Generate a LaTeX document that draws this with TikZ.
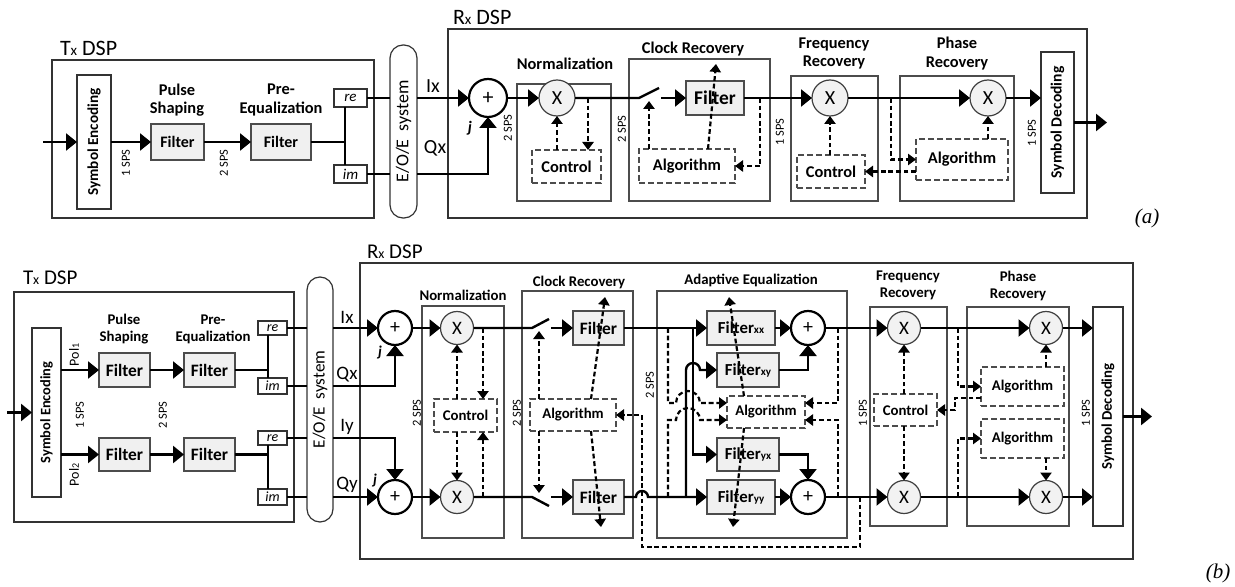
\documentclass[tikz,border=0pt]{standalone}
\usepackage{fontspec}
\setmainfont{Carlito}
\newfontfamily\capfont{Liberation Serif}
\usetikzlibrary{arrows.meta}
\newcommand\bx[7]{\node[#6, minimum width={(#4-#2)*0.5pt}, minimum height={(#5-#3)*0.5pt}] (#1) at ({(#2+#4)/2},{(#3+#5)/2}) {#7};}
\newcommand\fz[2]{\fontsize{#1}{#2}\selectfont}
\tikzset{
 sig/.style={line width=1.2pt},
 sarr/.style={sig, -{Triangle[length=5.5pt,width=8.5pt]}},
 dsh/.style={line width=1.1pt, dash pattern=on 2.4pt off 1.4pt},
 darr/.style={dsh, -{Triangle[length=4pt,width=5.6pt]}},
 outer/.style={draw=black!80, line width=0.6pt, inner sep=0pt, outer sep=0pt},
 inner/.style={draw=black!70, line width=0.8pt, inner sep=0pt, outer sep=0pt},
 filt/.style={draw=black!70, line width=0.6pt, fill=black!6, inner sep=0pt, outer sep=0pt},
 dbox/.style={draw=black!70, line width=0.55pt, dash pattern=on 3pt off 1.5pt, fill=white, inner sep=0pt, outer sep=0pt},
 plain/.style={draw=black!80, line width=0.6pt, fill=white, inner sep=0pt, outer sep=0pt},
 eoe/.style={draw=black!80, line width=0.6pt, fill=white, rounded corners=6.5pt, inner sep=0pt, outer sep=0pt},
 mul/.style={circle, draw=black!75, line width=0.6pt, fill=black!5, inner sep=0pt, outer sep=0pt},
 add/.style={circle, draw=black, line width=1.1pt, fill=white, inner sep=0pt, outer sep=0pt},
 txt/.style={inner sep=0pt, outer sep=0pt},
 sps/.style={txt, rotate=90, font=\fz{6.2}{7}},
 ttl/.style={txt, align=center, font=\bfseries\fz{8.2}{9.2}},
 ttlb/.style={txt, align=center, font=\bfseries\fz{7.4}{8.5}},
 fa/.style={font=\bfseries\fz{8.2}{9}},
 fb/.style={font=\bfseries\fz{7.4}{8.5}},
}
\begin{document}
\begin{tikzpicture}[x=0.5pt,y=-0.5pt]
\useasboundingbox (0,0) rectangle (1235,587);
% ================= (a) =================
\bx{txA}{52}{60}{374}{218}{outer}{}
\node[txt, anchor=west, font=\fz{11}{13}] (txAl) at (60,48) {T{\fz{7.5}{9}x} DSP};
\bx{eoA}{390}{45}{417}{218}{eoe}{}
\node[txt, rotate=90, font=\fz{9}{11}] (eoAt) at (eoA.center) {E/O/E\ \ system};
\bx{rxA}{448}{29}{1087}{218}{outer}{}
\node[txt, anchor=west, font=\fz{11}{13}] (rxAl) at (453,17) {R{\fz{7.5}{9}x} DSP};
\bx{nbA}{517}{84}{611}{201}{inner}{}
\node[ttl] (nbAl) at (565,64) {Normalization};
\bx{cbA}{629}{59}{770}{201}{inner}{}
\node[ttl] (cbAl) at (693,49) {Clock Recovery};
\bx{fbA}{791}{76}{878}{201}{inner}{}
\node[ttl] (fbAl) at (834,53.5) {Frequency\\Recovery};
\bx{pbA}{900}{76}{1014}{201}{inner}{}
\node[ttl] (pbAl) at (957,53.5) {Phase\\Recovery};
% Tx (a)
\bx{seA}{77}{75}{111}{209}{plain}{}
\node[txt, rotate=90, font=\bfseries\fz{7.6}{9}] (seAt) at (seA.center) {Symbol Encoding};
\coordinate (inA) at (43,142);
\draw[sarr] (inA) -- (seA.west |- inA);
\bx{psA}{151}{124}{204}{160}{filt, font=\bfseries\fz{8}{9}}{Filter}
\bx{peA}{251}{124}{311}{160}{filt, font=\bfseries\fz{8}{9}}{Filter}
\node[ttl] (psAl) at (177,100) {Pulse\\Shaping};
\node[ttl] (peAl) at (281,100) {Pre-\\Equalization};
\node[sps] (spsA1) at (126,163) {1 SPS};
\node[sps] (spsA2) at (224,163) {2 SPS};
\draw[sarr] (seA.east |- psA.west) -- (psA.west);
\draw[sarr] (psA.east) -- (peA.west);
\bx{reA}{334}{89}{367}{107}{plain, font=\itshape\fz{7.5}{9}}{re}
\bx{imA}{334}{165}{367}{183}{plain, font=\itshape\fz{7.5}{9}}{im}
\coordinate (jA) at (345,142);
\draw[sig] (peA.east) -- (jA);
\draw[sig] (reA.south -| jA) -- (imA.north -| jA);
% Rx (a)
\node[add, minimum size=19pt, font=\fz{11}{12}] (adA) at (488,98) {+};
\draw[sig] (reA.east) -- (eoA.west |- reA.east);
\draw[sarr] (eoA.east |- reA.east) -- (adA.west);
\draw[sig] (imA.east) -- (eoA.west |- imA.east);
\draw[sarr] (eoA.east |- imA.east) -| (adA.south);
\node[txt, font=\fz{10}{12}] (IxA) at (433,86) {Ix};
\node[txt, font=\fz{10}{12}] (QxA) at (435,148) {Qx};
\node[txt, font=\bfseries\itshape\fz{8}{9}] (jlA) at (470,128) {j};
% normalization
\node[mul, minimum size=18pt, font=\fz{10}{12}] (nxA) at (557,98) {X};
\draw[sarr] (adA.east) -- (nxA.west);
\node[sps] (spsA3) at (508,128) {2 SPS};
\bx{ncA}{532}{150}{601}{183}{dbox, fa}{Control}
\coordinate (nA1) at (588,98);
\draw[darr] (nA1) -- (nA1 |- ncA.north);
\draw[darr] (ncA.north -| nxA) -- (nxA.south);
% clock
\coordinate (swA1) at (639,98);
\coordinate (swA2) at (659,88);
\coordinate (swA3) at (661,98);
\draw[sig] (nxA.east) -- (swA1) -- (swA2);
\bx{fcA}{686}{81}{744}{115}{filt, font=\bfseries\fz{9.7}{11}}{Filter}
\draw[sarr] (swA3) -- (fcA.west);
\bx{acA}{639}{149}{735}{183}{dbox, fa}{Algorithm}
\coordinate (swA4) at (649,101);
\draw[darr] (swA4 |- acA.north) -- (swA4);
\coordinate (dgA) at (716,64);
\coordinate (dgA0) at (708,0);
\draw[darr] (dgA0 |- acA.north) -- (dgA);
\node[sps] (spsA4) at (622,129) {2 SPS};
% frequency
\node[mul, minimum size=18pt, font=\fz{10}{12}] (fxA) at (830,98) {X};
\draw[sarr] (fcA.east) -- (fxA.west);
\coordinate (cA1) at (760,98);
\draw[darr] (cA1) |- (acA.east);
\node[sps] (spsA5) at (780,132) {1 SPS};
\bx{fkA}{797}{155}{865}{188}{dbox, fa}{Control}
\draw[darr] (fkA.north -| fxA) -- (fxA.south);
% phase
\node[mul, minimum size=18pt, font=\fz{10}{12}] (pxA) at (988,98) {X};
\draw[sarr] (fxA.east) -- (pxA.west);
\bx{paA}{916}{139}{1008}{180}{dbox, fa}{Algorithm}
\coordinate (pA1) at (891,98);
\draw[darr] (pA1) |- (paA.west);
\draw[darr] (paA.west |- fkA.east) -- (fkA.east);
\draw[darr] (paA.north -| pxA) -- (pxA.south);
\bx{sdA}{1041}{52}{1074}{193}{plain}{}
\node[txt, rotate=90, font=\bfseries\fz{7.8}{9}] (sdAt) at (sdA.center) {Symbol Decoding};
\draw[sarr] (pxA.east) -- (sdA.west |- pxA.east);
\node[sps] (spsA6) at (1032,133) {1 SPS};
\coordinate (outA) at (1107,122.5);
\draw[sarr] (sdA.east |- outA) -- (outA);
\node[txt, font=\capfont\itshape\fz{10.5}{12}] (capA) at (1147,218) {(a)};
% ================= (b) =================
\bx{txB}{14}{292}{294}{522}{outer}{}
\node[txt, anchor=west, font=\fz{10.5}{12}] (txBl) at (23,278) {T{\fz{7}{8}x} DSP};
\bx{eoB}{307}{277}{333}{522}{eoe}{}
\node[txt, rotate=90, font=\fz{8.6}{10}] (eoBt) at (eoB.center) {E/O/E\ \ system};
\bx{rxB}{360}{263}{1133}{559}{outer}{}
\node[txt, anchor=west, font=\fz{10.5}{12}] (rxBl) at (367,252) {R{\fz{7}{8}x} DSP};
% Tx (b)
\bx{seB}{32}{328}{61}{497}{plain}{}
\node[txt, rotate=90, font=\bfseries\fz{7.2}{9}] (seBt) at (seB.center) {Symbol Encoding};
\coordinate (inB) at (7,412.5);
\draw[sarr] (inB) -- (seB.west |- inB);
\bx{psB1}{99}{353}{150}{387}{filt, font=\bfseries\fz{8.7}{10}}{Filter}
\bx{psB2}{99}{438}{150}{471}{filt, font=\bfseries\fz{8.7}{10}}{Filter}
\bx{peB1}{184}{353}{235}{387}{filt, font=\bfseries\fz{8.7}{10}}{Filter}
\bx{peB2}{184}{438}{235}{471}{filt, font=\bfseries\fz{8.7}{10}}{Filter}
\draw[sarr] (seB.east |- psB1.west) -- (psB1.west);
\draw[sarr] (seB.east |- psB2.west) -- (psB2.west);
\draw[sarr] (psB1.east) -- (peB1.west);
\draw[sarr] (psB2.east) -- (peB2.west);
\node[ttlb] (psBl) at (124,329) {Pulse\\Shaping};
\node[ttlb] (peBl) at (213,329) {Pre-\\Equalization};
\node[txt, rotate=90, font=\fz{7}{8}] (pol1) at (74,355) {Pol{\fz{5}{6}1}};
\node[txt, rotate=90, font=\fz{7}{8}] (pol2) at (74,475) {Pol{\fz{5}{6}2}};
\node[sps] (spsB1) at (80,415) {1 SPS};
\node[sps] (spsB2) at (163,415) {2 SPS};
\bx{reB1}{258}{321}{287}{335}{plain, font=\itshape\fz{7}{8}}{re}
\bx{imB1}{258}{378}{287}{394}{plain, font=\itshape\fz{7}{8}}{im}
\bx{reB2}{258}{431}{287}{445}{plain, font=\itshape\fz{7}{8}}{re}
\bx{imB2}{258}{489}{287}{505}{plain, font=\itshape\fz{7}{8}}{im}
\coordinate (jB1) at (268,370);
\coordinate (jB2) at (268,454.5);
\draw[sig] (peB1.east) -- (jB1);
\draw[sig] (reB1.south -| jB1) -- (imB1.north -| jB1);
\draw[sig] (peB2.east) -- (jB2);
\draw[sig] (reB2.south -| jB2) -- (imB2.north -| jB2);
% Rx (b) inputs
\node[add, minimum size=17pt, font=\fz{10}{11}] (adB1) at (395,328) {+};
\node[add, minimum size=17pt, font=\fz{10}{11}] (adB2) at (395,497) {+};
\draw[sig] (reB1.east) -- (eoB.west |- reB1.east);
\draw[sarr] (eoB.east |- reB1.east) -- (adB1.west);
\draw[sig] (imB1.east) -- (eoB.west |- imB1.east);
\draw[sarr] (eoB.east |- imB1.east) -| (adB1.south);
\draw[sig] (reB2.east) -- (eoB.west |- reB2.east);
\draw[sarr] (eoB.east |- reB2.east) -| (adB2.north);
\draw[sig] (imB2.east) -- (eoB.west |- imB2.east);
\draw[sarr] (eoB.east |- imB2.east) -- (adB2.west);
\node[txt, font=\fz{9.5}{11}] (IxB) at (347,317) {Ix};
\node[txt, font=\fz{9.5}{11}] (QxB) at (347,375) {Qx};
\node[txt, font=\fz{9.5}{11}] (IyB) at (347,427) {Iy};
\node[txt, font=\fz{9.5}{11}] (QyB) at (347,485) {Qy};
\node[txt, font=\bfseries\itshape\fz{7.5}{9}] (jlB1) at (380,353) {j};
\node[txt, font=\bfseries\itshape\fz{7.5}{9}] (jlB2) at (375,481) {j};
% normalization (b)
\bx{nbB}{422}{306}{504}{538}{inner}{}
\node[ttlb] (nbBl) at (463,295) {Normalization};
\node[mul, minimum size=16.5pt, font=\fz{9.5}{11}] (nxB1) at (457,328) {X};
\node[mul, minimum size=16.5pt, font=\fz{9.5}{11}] (nxB2) at (457,497) {X};
\draw[sarr] (adB1.east) -- (nxB1.west);
\draw[sarr] (adB2.east) -- (nxB2.west);
\bx{ncB}{434}{399}{497}{432}{dbox, fb}{Control}
\coordinate (nB1) at (483,328);
\coordinate (nB2) at (483,497);
\draw[darr] (nB1) -- (nB1 |- ncB.north);
\draw[darr] (nB2) -- (nB2 |- ncB.south);
\draw[darr] (ncB.north -| nxB1) -- (nxB1.south);
\draw[darr] (ncB.south -| nxB2) -- (nxB2.north);
\node[sps] (spsB3) at (417,413) {2 SPS};
% clock (b)
\bx{cbB}{522}{291}{633}{538}{inner}{}
\node[ttlb] (cbBl) at (579,282) {Clock Recovery};
\coordinate (swB1) at (532,328);
\coordinate (swB2) at (549,319);
\coordinate (swB3) at (551,328);
\coordinate (swB4) at (532,497);
\coordinate (swB5) at (549,506);
\coordinate (swB6) at (551,497);
\draw[sig] (nxB1.east) -- (swB1) -- (swB2);
\draw[sig] (nxB2.east) -- (swB4) -- (swB5);
\bx{fcB1}{573}{311}{624}{345}{filt, font=\bfseries\fz{8.7}{10}}{Filter}
\bx{fcB2}{573}{480}{624}{514}{filt, font=\bfseries\fz{8.7}{10}}{Filter}
\draw[sarr] (swB3) -- (fcB1.west);
\draw[sarr] (swB6) -- (fcB2.west);
\bx{acB}{530}{399}{616}{431}{dbox, fb}{Algorithm}
\coordinate (swB7) at (539,331);
\coordinate (swB8) at (539,493);
\draw[darr] (swB7 |- acB.north) -- (swB7);
\draw[darr] (swB8 |- acB.south) -- (swB8);
\coordinate (dgB0) at (591,0);
\coordinate (dgB1) at (605,297);
\coordinate (dgB2) at (601,527);
\draw[darr] (dgB0 |- acB.north) -- (dgB1);
\draw[darr] (dgB0 |- acB.south) -- (dgB2);
\node[sps] (spsB4) at (517,413) {2 SPS};
% adaptive equalization
\bx{aeB}{657}{291}{847}{538}{inner}{}
\node[ttlb] (aeBl) at (751,280) {Adaptive Equalization};
\bx{fxx}{707}{311}{775}{345}{filt, font=\bfseries\fz{8.4}{10}}{Filter{\fz{5.5}{6}xx}}
\bx{fxy}{717}{353}{779}{387}{filt, font=\bfseries\fz{8.4}{10}}{Filter{\fz{5.5}{6}xy}}
\bx{fyx}{717}{438}{779}{471}{filt, font=\bfseries\fz{8.4}{10}}{Filter{\fz{5.5}{6}yx}}
\bx{fyy}{707}{480}{775}{514}{filt, font=\bfseries\fz{8.4}{10}}{Filter{\fz{5.5}{6}yy}}
\node[add, minimum size=17pt, font=\fz{10}{11}] (axx) at (808,328) {+};
\node[add, minimum size=17pt, font=\fz{10}{11}] (ayy) at (808,497) {+};
\coordinate (bxa) at (693,328);
\coordinate (bya) at (686,497);
\coordinate (hopA) at (636,497);
\coordinate (hopB) at (686,370);
\draw[sarr] (fcB1.east) -- (fxx.west);
\draw[sarr] (bxa) |- (fyx.west);
\draw[sarr] (fcB2.east) -- (hopA) arc[start angle=180, end angle=360, radius=6] -- (fyy.west);
\draw[sarr] (bya) -- (hopB) arc[start angle=180, end angle=360, radius=7] -- (fxy.west);
\draw[sarr] (fxx.east) -- (axx.west);
\draw[sarr] (fyy.east) -- (ayy.west);
\draw[sarr] (fxy.east) -| (axx.south);
\draw[sarr] (fyx.east) -| (ayy.north);
\bx{aaB}{727}{396}{805}{428}{dbox, fb}{Algorithm}
\coordinate (eL1) at (668,328);
\coordinate (eL2) at (668,497);
\coordinate (eL3) at (668,403);
\coordinate (eL4) at (668,420);
\coordinate (eH1) at (676,403);
\coordinate (eH2) at (676,420);
\draw[darr] (eL1) -- (eL3) -- (eH1) arc[start angle=180, end angle=360, radius=12] -- (aaB.west |- eH1);
\draw[darr] (eL2) -- (eL4) -- (eH2) arc[start angle=180, end angle=360, radius=12] -- (aaB.west |- eH2);
\coordinate (eR1) at (838,328);
\coordinate (eR2) at (838,497);
\draw[darr] (eR1) |- (aaB.east |- eL3);
\draw[darr] (eR2) |- (aaB.east |- eL4);
\coordinate (dgE0) at (744,0);
\coordinate (dgE1) at (729,297);
\coordinate (dgE2) at (733,527);
\draw[darr] (dgE0 |- aaB.north) -- (dgE1);
\draw[darr] (dgE0 |- aaB.south) -- (dgE2);
\node[sps] (spsB5) at (650,385) {2 SPS};
\coordinate (fb1) at (860,497);
\coordinate (fb2) at (860,547);
\coordinate (fb3) at (642,547);
\draw[darr] (fb1) -- (fb2) -- (fb3) |- (acB.east);
% frequency (b)
\bx{fbB}{870}{307}{947}{526}{inner}{}
\node[ttlb] (fbBl) at (908,285.5) {Frequency\\Recovery};
\node[mul, minimum size=16.5pt, font=\fz{9.5}{11}] (fxB1) at (904,328) {X};
\node[mul, minimum size=16.5pt, font=\fz{9.5}{11}] (fxB2) at (904,497) {X};
\draw[sarr] (axx.east) -- (fxB1.west);
\draw[sarr] (ayy.east) -- (fxB2.west);
\bx{fkB}{874}{394}{937}{426}{dbox, fb}{Control}
\draw[darr] (fkB.north -| fxB1) -- (fxB1.south);
\draw[darr] (fkB.south -| fxB2) -- (fxB2.north);
\node[sps] (spsB6) at (863,413) {1 SPS};
% phase (b)
\bx{pbB}{967}{307}{1069}{526}{inner}{}
\node[ttlb] (pbBl) at (1018,285.5) {Phase\\Recovery};
\node[mul, minimum size=16.5pt, font=\fz{9.5}{11}] (pxB1) at (1046,328) {X};
\node[mul, minimum size=16.5pt, font=\fz{9.5}{11}] (pxB2) at (1046,497) {X};
\draw[sarr] (fxB1.east) -- (pxB1.west);
\draw[sarr] (fxB2.east) -- (pxB2.west);
\bx{paB1}{981}{367}{1064}{406}{dbox, fb}{Algorithm}
\bx{paB2}{981}{419}{1064}{458}{dbox, fb}{Algorithm}
\coordinate (pB1) at (958,328);
\coordinate (pB2) at (958,497);
\draw[darr] (pB1) |- (paB1.west);
\draw[darr] (pB2) |- (paB2.west);
\coordinate (pB4) at (955,398);
\coordinate (pB5) at (955,410);
\draw[darr] (paB1.west |- pB4) -- (pB4) -- (pB5) -- (fkB.east |- pB5);
\draw[darr] (paB1.north -| pxB1) -- (pxB1.south);
\draw[darr] (paB2.south -| pxB2) -- (pxB2.north);
\bx{sdB}{1093}{307}{1123}{526}{plain}{}
\node[txt, rotate=90, font=\bfseries\fz{7.4}{9}] (sdBt) at (sdB.center) {Symbol Decoding};
\draw[sarr] (pxB1.east) -- (sdB.west |- pxB1.east);
\draw[sarr] (pxB2.east) -- (sdB.west |- pxB2.east);
\node[sps] (spsB7) at (1086,413) {1 SPS};
\coordinate (outB) at (1152,416.5);
\draw[sarr] (sdB.east |- outB) -- (outB);
\node[txt, font=\capfont\itshape\fz{10.5}{12}] (capB) at (1218,573) {(b)};
\end{tikzpicture}
\end{document}
